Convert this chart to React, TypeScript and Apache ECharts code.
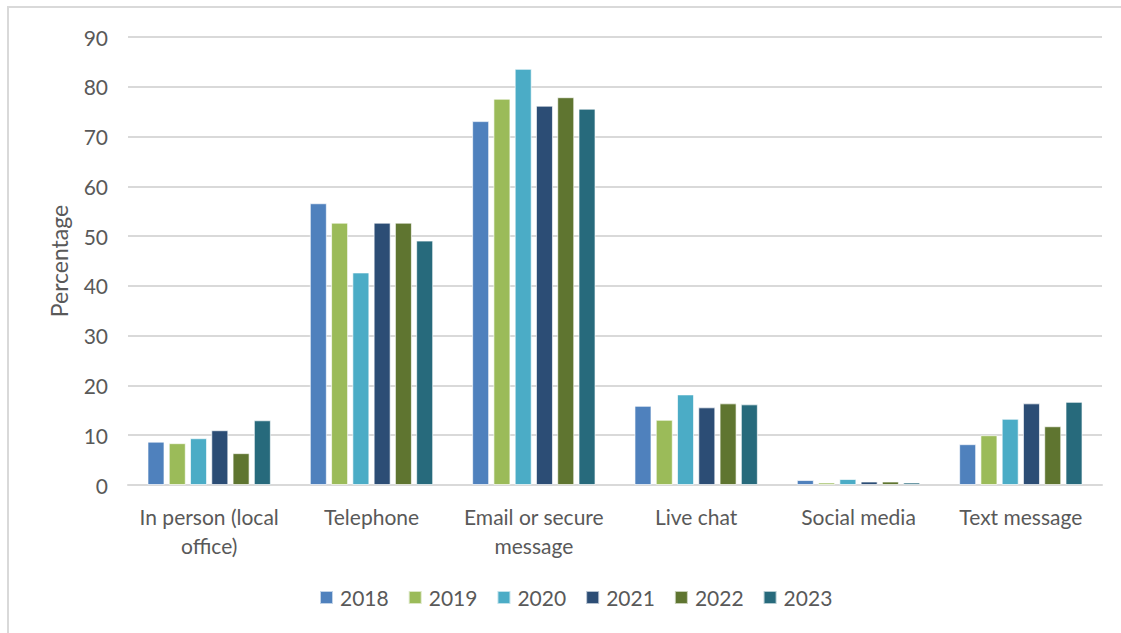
import React, { useEffect, useRef } from "react";
import * as echarts from "echarts";

const categories = [
  "In person (local\noffice)",
  "Telephone",
  "Email or secure\nmessage",
  "Live chat",
  "Social media",
  "Text message",
];
const years = ["2018", "2019", "2020", "2021", "2022", "2023"];
const v2018 = [8.7, 56.6, 73.1, 15.9, 1.0, 8.2];
const v2019 = [8.4, 52.7, 77.6, 13.1, 0.5, 10.0];
const v2020 = [9.4, 42.7, 83.6, 18.2, 1.2, 13.3];
const v2021 = [11.0, 52.7, 76.2, 15.6, 0.7, 16.4];
const v2022 = [6.4, 52.7, 77.9, 16.4, 0.7, 11.8];
const v2023 = [13.0, 49.1, 75.6, 16.2, 0.5, 16.7];
const seriesValues = [v2018, v2019, v2020, v2021, v2022, v2023];
const colors = ["#4F81BD", "#9BBB59", "#4BACC6", "#2C4D75", "#5F7530", "#276A7C"];
const yTicks = [0, 10, 20, 30, 40, 50, 60, 70, 80, 90];

const FONT = "Lato";
const TXT = "#595959";

export default function App() {
  const ref = useRef<HTMLDivElement>(null);
  useEffect(() => {
    if (!ref.current) return;
    const chart = echarts.init(ref.current, null, { renderer: "svg" });
    chart.setOption({
      animation: false,
      backgroundColor: "#ffffff",
      color: colors,
      textStyle: { fontFamily: FONT },
      graphic: [
        { type: "line", shape: { x1: 8, y1: 6, x2: 8, y2: 633 }, style: { stroke: "#d9d9d9", lineWidth: 2 } },
        { type: "line", shape: { x1: 7, y1: 7, x2: 1121, y2: 7 }, style: { stroke: "#d9d9d9", lineWidth: 2 } },
      ],
      grid: { left: 128, right: 19, top: 37, bottom: 148, containLabel: false },
      legend: {
        data: years,
        bottom: 20,
        left: 314,
        itemWidth: 13,
        itemHeight: 13,
        itemGap: 19,
        icon: "rect",
        textStyle: { fontFamily: FONT, fontSize: 21, color: TXT, padding: [0, 0, 0, 2] },
      },
      xAxis: {
        type: "category",
        data: categories,
        axisTick: { show: false },
        axisLine: { show: true, lineStyle: { color: "#d9d9d9", width: 2 } },
        axisLabel: { fontFamily: FONT, fontSize: 21, color: TXT, margin: 17, lineHeight: 29, interval: 0 },
      },
      yAxis: {
        type: "value",
        min: yTicks[0],
        max: yTicks[yTicks.length - 1],
        interval: 10,
        name: "Percentage",
        nameLocation: "middle",
        nameGap: 58,
        nameRotate: 90,
        nameTextStyle: { fontFamily: FONT, fontSize: 23, color: TXT },
        axisLine: { show: false },
        axisTick: { show: false },
        axisLabel: { fontFamily: FONT, fontSize: 21, color: TXT, margin: 20 },
        splitLine: { lineStyle: { color: "#d9d9d9", width: 2 } },
      },
      series: years.map((y, i) => ({
        name: y,
        type: "bar",
        data: seriesValues[i],
        barGap: "25%",
        barCategoryGap: "24%",
        itemStyle: { color: colors[i], borderColor: "rgba(255,255,255,0.65)", borderWidth: 1 },
      })),
    });
    return () => chart.dispose();
  }, []);
  return (
    <div
      ref={ref}
      style={{ position: "absolute", left: 0, top: 0, width: 1121, height: 633 }}
    />
  );
}
